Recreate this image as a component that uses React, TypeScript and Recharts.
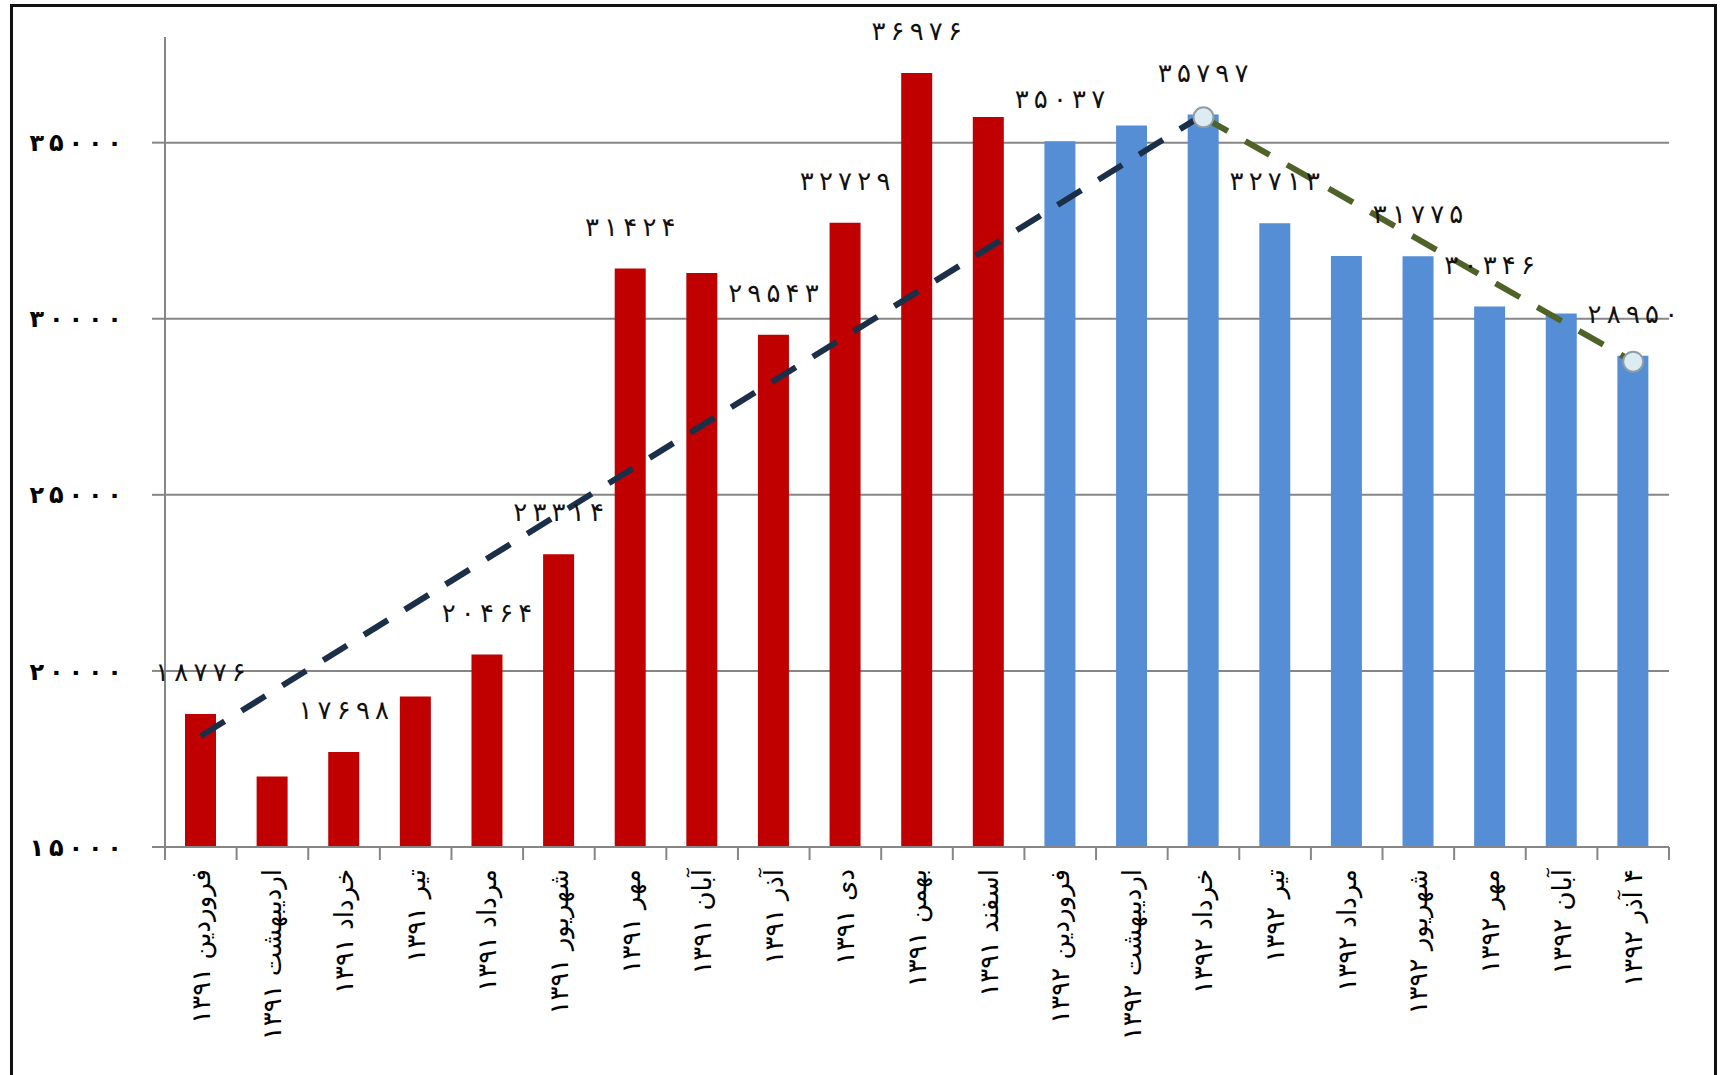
import React from 'react';
import {
  ComposedChart, Bar, Line, XAxis, YAxis, CartesianGrid, Cell, LabelList,
} from 'recharts';

const months = [
  'فروردین ۱۳۹۱', 'اردیبهشت ۱۳۹۱', 'خرداد ۱۳۹۱', 'تیر ۱۳۹۱', 'مرداد ۱۳۹۱', 'شهریور ۱۳۹۱',
  'مهر ۱۳۹۱', 'آبان ۱۳۹۱', 'آذر ۱۳۹۱', 'دی ۱۳۹۱', 'بهمن ۱۳۹۱', 'اسفند ۱۳۹۱',
  'فروردین ۱۳۹۲', 'اردیبهشت ۱۳۹۲', 'خرداد ۱۳۹۲', 'تیر ۱۳۹۲', 'مرداد ۱۳۹۲', 'شهریور ۱۳۹۲',
  'مهر ۱۳۹۲', 'آبان ۱۳۹۲', '۴ آذر ۱۳۹۲',
];

const values = [
  18776, 17000, 17698, 19270, 20464, 23314, 31424, 31300, 29543, 32729, 36976, 35730,
  35037, 35490, 35797, 32713, 31785, 31775, 30346, 30150, 28950,
];

// only some bars carry a value label in the original
const labels = [
  18776, null, 17698, null, 20464, 23314, 31424, null, 29543, 32729, 36976, null,
  35037, null, 35797, 32713, null, 31775, 30346, null, 28950,
];

const trendUp = [
  18150, null, null, null, null, null, null, null, null, null, null, null,
  null, null, 35797, null, null, null, null, null, null,
];

const trendDown = [
  null, null, null, null, null, null, null, null, null, null, null, null,
  null, null, 35720, null, null, null, null, null, 28780,
];

const yTicks = [15000, 20000, 25000, 30000, 35000];

const data = months.map((m, i) => ({
  month: m,
  value: values[i],
  label: labels[i],
  up: trendUp[i],
  down: trendDown[i],
}));

// persian digits, spread out with thin spaces (letter-spacing is ignored for arabic script)
const toFa = (n: number | string) =>
  String(n)
    .split('')
    .map((d) => '۰۱۲۳۴۵۶۷۸۹'[Number(d)])
    .join('\u2009');

const W = 1725;
const H = 1075;
const margin = { top: 37, right: 56, left: 65, bottom: 28 };
const Y_AXIS_W = 100;
const PLOT_W = W - margin.left - margin.right - Y_AXIS_W;
const FONT = '"DejaVu Sans", sans-serif';
const AXIS_GRAY = '#868686';

const XTick = (props: any) => {
  const { x, y, payload, index } = props;
  const step = PLOT_W / months.length;
  return (
    <g>
      <line x1={x - step / 2} y1={y} x2={x - step / 2} y2={y + 13} stroke={AXIS_GRAY} strokeWidth={2} />
      {index === months.length - 1 && (
        <line x1={x + step / 2} y1={y} x2={x + step / 2} y2={y + 13} stroke={AXIS_GRAY} strokeWidth={2} />
      )}
      <text
        transform={`translate(${x},${y + 22}) rotate(-90)`}
        textAnchor="end"
        dominantBaseline="central"
        fontFamily={FONT}
        fontSize={26}
        fill="#000"
      >
        {'\u200F' + payload.value}
      </text>
    </g>
  );
};

const YTick = (props: any) => {
  const { x, y, payload } = props;
  return (
    <text
      x={x}
      y={y}
      dy="0.36em"
      textAnchor="end"
      fontFamily={FONT}
      fontSize={24}
      fontWeight="bold"
      fill="#000"
    >
      {toFa(payload.value)}
    </text>
  );
};

const renderLabel = (props: any) => {
  const { x, y, width, value } = props;
  if (value == null) return null;
  return (
    <text
      x={x + width / 2}
      y={y - 33}
      textAnchor="middle"
      fontFamily={FONT}
      fontSize={26}
      fill="#111"
    >
      {toFa(value)}
    </text>
  );
};

const App = () => {
  return (
    <div style={{ position: 'absolute', left: 0, top: 0, width: W, height: H, background: '#fff', overflow: 'hidden' }}>
      <div
        style={{
          position: 'absolute', left: 10, top: 4, width: 1707, height: H - 4,
          border: '3px solid #111', borderBottom: 'none', boxSizing: 'border-box',
        }}
      />
      <div style={{ position: 'absolute', left: 0, top: 0 }}>
        <ComposedChart width={W} height={H} data={data} margin={margin}>
          <CartesianGrid
            horizontal
            vertical={false}
            horizontalValues={yTicks}
            stroke={AXIS_GRAY}
            strokeWidth={2}
          />
          <XAxis
            dataKey="month"
            interval={0}
            height={200}
            tickSize={0}
            tickMargin={0}
            tickLine={false}
            axisLine={{ stroke: AXIS_GRAY, strokeWidth: 2 }}
            tick={<XTick />}
          />
          <YAxis
            width={Y_AXIS_W}
            domain={[15000, 38000]}
            ticks={yTicks}
            tickSize={13}
            tickMargin={30}
            tickLine={{ stroke: AXIS_GRAY, strokeWidth: 2 }}
            axisLine={{ stroke: AXIS_GRAY, strokeWidth: 2 }}
            tick={<YTick />}
            allowDataOverflow
          />
          <Bar dataKey="value" barSize={31} isAnimationActive={false}>
            {data.map((d, i) => (
              <Cell key={d.month} fill={i < 12 ? '#c00000' : '#558ed5'} />
            ))}
            <LabelList dataKey="label" content={renderLabel} />
          </Bar>
          <Line
            type="linear"
            dataKey="up"
            connectNulls
            stroke="#1c2f48"
            strokeWidth={6}
            strokeDasharray="28 20"
            dot={false}
            activeDot={false}
            isAnimationActive={false}
          />
          <Line
            type="linear"
            dataKey="down"
            connectNulls
            stroke="#4f6228"
            strokeWidth={6}
            strokeDasharray="28 20"
            dot={{ r: 10, fill: '#dcecf2', stroke: '#8f9ea3', strokeWidth: 2, strokeDasharray: '' }}
            activeDot={false}
            isAnimationActive={false}
          />
        </ComposedChart>
      </div>
    </div>
  );
};

export default App;
